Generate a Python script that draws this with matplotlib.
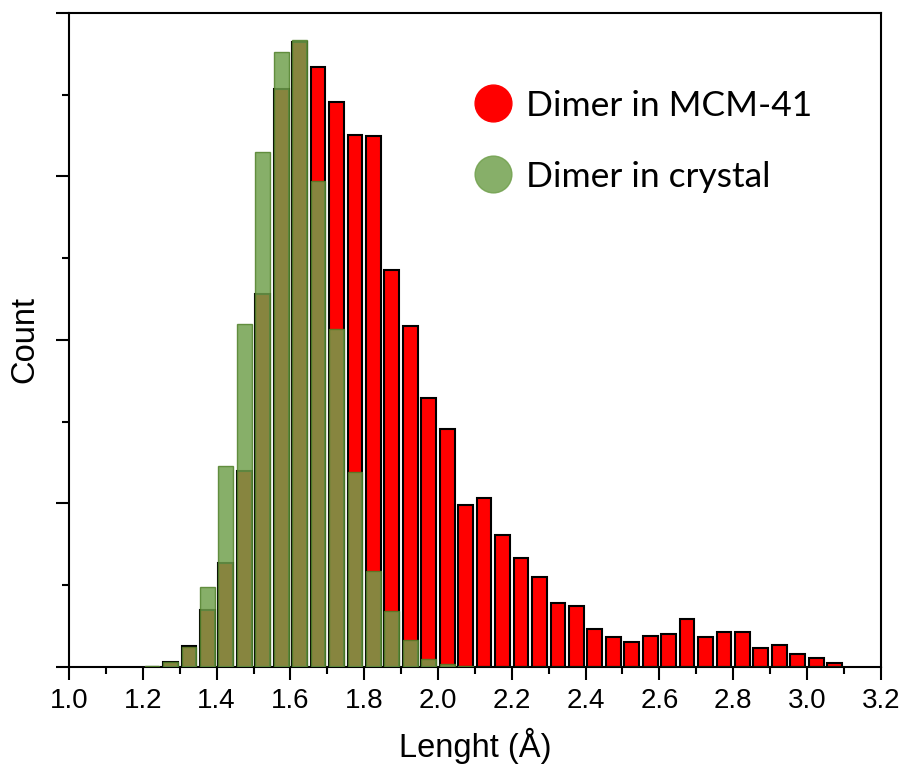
import numpy as np
import matplotlib
matplotlib.use("Agg")
import matplotlib.pyplot as plt
from matplotlib.lines import Line2D
from matplotlib.ticker import MultipleLocator, FormatStrFormatter

# histogram bins (0.05 A wide), first bin centred at 1.225
bin_width = 0.05
first_center = 1.225

# counts
mcm41_counts = [0, 14, 64, 174, 316, 598, 1141, 1767, 1912, 1835,
                1727, 1628, 1625, 1215, 1042, 823, 728, 495, 517, 403,
                334, 273, 196, 187, 115, 91, 75, 95, 101, 145,
                92, 107, 106, 57, 66, 39, 27, 10]
crystal_counts = [3, 15, 60, 243, 614, 1048, 1574, 1880, 1918, 1485,
                  1033, 597, 293, 170, 82, 23, 7, 2, 0, 0,
                  0, 0, 0, 0, 0, 0, 0, 0, 0, 0,
                  0, 0, 0, 0, 0, 0, 0, 0]

series_labels = ["Dimer in MCM-41", "Dimer in crystal"]

centers = first_center + bin_width * np.arange(len(mcm41_counts))

red = "#ff0000"
green = (112/255, 160/255, 76/255)

fig = plt.figure(figsize=(9, 7.7), dpi=100)
ax = fig.add_axes([0.0767, 0.1342, 0.9019, 0.8489])

ax.bar(centers, mcm41_counts, width=0.04, color=red, edgecolor="black",
       linewidth=1.5, zorder=2)
ax.bar(centers, crystal_counts, width=0.04, color=green, alpha=0.84,
       edgecolor="#4f7f28", linewidth=1.0, zorder=3)

ax.set_xlim(1.0, 3.2)
ax.set_ylim(0, 2000)
ax.xaxis.set_major_locator(MultipleLocator(0.2))
ax.xaxis.set_minor_locator(MultipleLocator(0.1))
ax.xaxis.set_major_formatter(FormatStrFormatter("%.1f"))
ax.yaxis.set_major_locator(MultipleLocator(500))
ax.yaxis.set_minor_locator(MultipleLocator(250))

ax.tick_params(which="major", direction="out", length=9.5, width=1.5,
               labelsize=20, pad=6)
ax.tick_params(which="minor", direction="out", length=5, width=1.5)
ax.tick_params(axis="y", which="both", labelleft=False)
for s in ax.spines.values():
    s.set_linewidth(1.5)

for lab in ax.get_xticklabels():
    lab.set_fontfamily("Liberation Sans")

ax.set_xlabel("Lenght (Å)", fontsize=23.5, family="Liberation Sans", labelpad=10)
ax.set_ylabel("Count", fontsize=23.5, family="Liberation Sans", labelpad=11)

handles = [
    Line2D([], [], ls="", marker="o", markersize=26.5, color=red),
    Line2D([], [], ls="", marker="o", markersize=26.5, color=green, alpha=0.84),
]
ax.legend(handles, series_labels, loc="upper left", bbox_to_anchor=(0.476, 0.91),
          frameon=False, prop={"family": "Lato", "size": 25.5},
          handletextpad=0.4, labelspacing=1.1, borderpad=0, handlelength=1.1)

fig.savefig("out.png", dpi=100)
